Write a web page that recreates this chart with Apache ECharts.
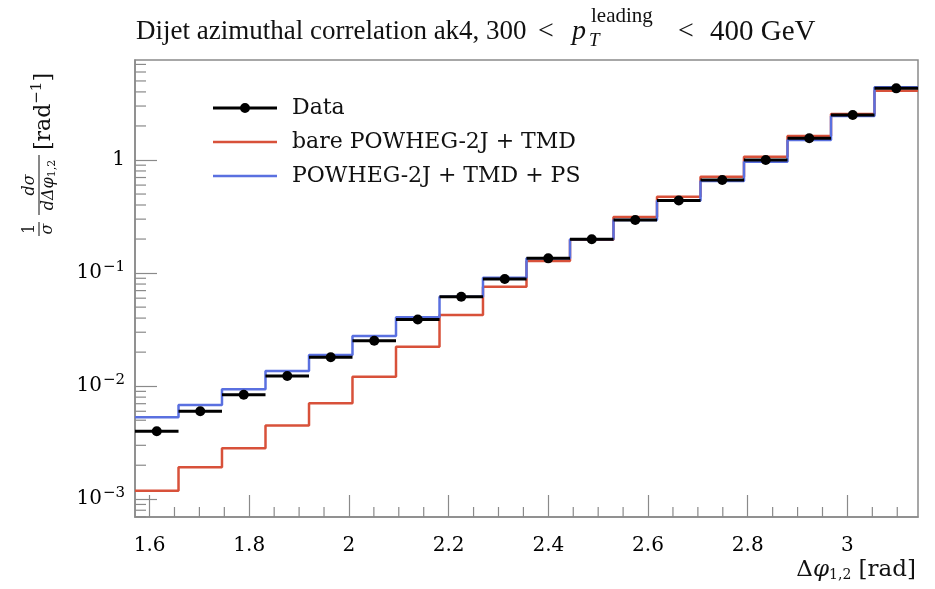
<!DOCTYPE html>
<html>
<head>
<meta charset="utf-8">
<script src="https://cdn.jsdelivr.net/npm/echarts@6/dist/echarts.min.js"></script>
<style>
  html, body { margin: 0; padding: 0; background: #fff; }
  #chart { width: 935px; height: 589px; }
</style>
</head>
<body>
<div id="chart"></div>
<script>
// bin edges in delta-phi (pi/2 .. pi, 18 bins)
const binEdges = [1.5708, 1.6581, 1.7453, 1.8326, 1.9199, 2.0071, 2.0944, 2.1817, 2.2689,
  2.3562, 2.4435, 2.5307, 2.6180, 2.7053, 2.7925, 2.8798, 2.9671, 3.0543, 3.1416];

const dataValues = [0.0040, 0.0060, 0.0084, 0.0123, 0.0180, 0.0252, 0.0389, 0.0618, 0.0887,
  0.135, 0.199, 0.295, 0.438, 0.666, 1.00, 1.555, 2.50, 4.30];
const bareValues = [0.00119, 0.00192, 0.00282, 0.00448, 0.00706, 0.0121, 0.0223, 0.0426, 0.0758,
  0.128, 0.197, 0.313, 0.474, 0.712, 1.07, 1.63, 2.55, 4.10];
const psValues = [0.00531, 0.00682, 0.00939, 0.0136, 0.0189, 0.0278, 0.0407, 0.0618, 0.0911,
  0.135, 0.199, 0.295, 0.437, 0.652, 0.966, 1.50, 2.45, 4.39];

const seriesNames = ['Data', 'bare POWHEG-2J + TMD', 'POWHEG-2J + TMD + PS'];
const yMin = 0.000697, yMax = 7.66;

const RED = '#d8513a';
const BLUE = '#5a70e0';
const AXIS = '#8a8a8a';
const SERIF = 'DejaVu Serif';
const TITLE_FONT = '"Liberation Serif"';

// legend icons (tiny corner specks keep the box 64x10 so the line stays thin)
const ICON_DATA = 'path://M0,3.5 L64,3.5 L64,6.5 L0,6.5 Z M27,5 A5,5 0 1,1 37,5 A5,5 0 1,1 27,5 Z';
const ICON_LINE = 'path://M0,0 L0.05,0 L0.05,0.05 Z M0,10 L0.05,10 L0.05,9.95 Z M0,3.8 L64,3.8 L64,6.2 L0,6.2 Z';

// histogram -> step points
const toSteps = vals => {
  const pts = vals.map((v, i) => [binEdges[i], v]);
  pts.push([binEdges[binEdges.length - 1], vals[vals.length - 1]]);
  return pts;
};

// minor ticks
const xMinor = [];
for (let k = 32; k <= 62; k++) {
  if (k % 4 !== 0) xMinor.push([k * 0.05, yMin]);
}
const yMinor = [];
for (let e = -4; e <= 0; e++) {
  for (let m = 2; m <= 9; m++) {
    const v = m * Math.pow(10, e);
    if (v > yMin && v < yMax) yMinor.push([binEdges[0], v]);
  }
}

const chart = echarts.init(document.getElementById('chart'));

const yLabel = v => {
  const e = Math.round(Math.log10(v));
  if (e === 0) return '1';
  return '10{sup|' + (e < 0 ? '\u2212' : '') + Math.abs(e) + '}';
};

const option = {
  backgroundColor: '#fff',
  animation: false,
  grid: {
    left: 135, right: 17, top: 60, bottom: 72,
    show: true, borderColor: AXIS, borderWidth: 1.5
  },
  legend: {
    data: [
      { name: seriesNames[0], icon: ICON_DATA },
      { name: seriesNames[1], icon: ICON_LINE },
      { name: seriesNames[2], icon: ICON_LINE }
    ],
    orient: 'vertical',
    left: 213, top: 97,
    padding: 0,
    itemWidth: 64, itemHeight: 10, itemGap: 12,
    textStyle: { fontFamily: SERIF, fontSize: 22, color: '#111', padding: [0, 0, 0, 10] }
  },
  xAxis: {
    type: 'value',
    min: binEdges[0], max: binEdges[binEdges.length - 1],
    splitNumber: 8,
    axisLine: { lineStyle: { color: AXIS, width: 1.5 } },
    axisTick: { inside: true, length: 22, lineStyle: { color: AXIS, width: 1.2 } },
    splitLine: { show: false },
    axisLabel: {
      showMinLabel: false, showMaxLabel: false,
      margin: 19, fontFamily: SERIF, fontSize: 20, color: '#000'
    }
  },
  yAxis: {
    type: 'log', logBase: 10,
    min: yMin, max: yMax,
    axisLine: { lineStyle: { color: AXIS, width: 1.5 } },
    axisTick: { inside: true, length: 22, lineStyle: { color: AXIS, width: 1.2 } },
    splitLine: { show: false },
    axisLabel: {
      showMinLabel: false, showMaxLabel: false,
      margin: 10, fontFamily: SERIF, fontSize: 20, color: '#000',
      formatter: yLabel,
      rich: { sup: { fontFamily: SERIF, fontSize: 15, color: '#000', padding: [0, 0, 12, 1] } }
    }
  },
  series: [
    {
      name: seriesNames[1], type: 'line', step: 'end', symbol: 'none',
      lineStyle: { color: RED, width: 2.5 }, itemStyle: { color: RED },
      data: toSteps(bareValues), z: 3
    },
    {
      name: seriesNames[2], type: 'line', step: 'end', symbol: 'none',
      lineStyle: { color: BLUE, width: 2.5 }, itemStyle: { color: BLUE },
      data: toSteps(psValues), z: 4
    },
    {
      name: seriesNames[0], type: 'custom', z: 5,
      itemStyle: { color: '#000' },
      encode: { x: [0, 1], y: 2 },
      data: dataValues.map((v, i) => [binEdges[i], binEdges[i + 1], v]),
      renderItem: (params, api) => {
        const lo = api.value(0), hi = api.value(1), v = api.value(2);
        const a = api.coord([lo, v]), b = api.coord([hi, v]), c = api.coord([(lo + hi) / 2, v]);
        return {
          type: 'group',
          children: [
            { type: 'line', shape: { x1: a[0], y1: a[1], x2: b[0], y2: b[1] }, style: { stroke: '#000', lineWidth: 3 } },
            { type: 'circle', shape: { cx: c[0], cy: c[1], r: 5 }, style: { fill: '#000' } }
          ]
        };
      }
    },
    {
      name: 'xminor', type: 'custom', silent: true, clip: false,
      data: xMinor,
      renderItem: (params, api) => {
        const p = api.coord([api.value(0), api.value(1)]);
        return { type: 'line', shape: { x1: p[0], y1: p[1], x2: p[0], y2: p[1] - 10 }, style: { stroke: AXIS, lineWidth: 1.2 } };
      }
    },
    {
      name: 'yminor', type: 'custom', silent: true, clip: false,
      data: yMinor,
      renderItem: (params, api) => {
        const p = api.coord([api.value(0), api.value(1)]);
        return { type: 'line', shape: { x1: p[0], y1: p[1], x2: p[0] + 11, y2: p[1] }, style: { stroke: AXIS, lineWidth: 1.2 } };
      }
    }
  ],
  graphic: [
    // title
    { type: 'text', left: 136, top: 18, style: { text: 'Dijet azimuthal correlation ak4, 300', font: '27px ' + TITLE_FONT, fill: '#111' } },
    { type: 'text', left: 538, top: 18, style: { text: '<', font: '28px ' + TITLE_FONT, fill: '#111' } },
    { type: 'text', left: 572, top: 18, style: { text: 'p', font: 'italic 28px ' + TITLE_FONT, fill: '#111' } },
    { type: 'text', left: 591, top: 6, style: { text: 'leading', font: '21px ' + TITLE_FONT, fill: '#111' } },
    { type: 'text', left: 589, top: 31, style: { text: 'T', font: 'italic 19px ' + TITLE_FONT, fill: '#111' } },
    { type: 'text', left: 678, top: 18, style: { text: '<', font: '28px ' + TITLE_FONT, fill: '#111' } },
    { type: 'text', left: 710, top: 18, style: { text: '400 GeV', font: '29px ' + TITLE_FONT, fill: '#111' } },
    // x axis name
    {
      type: 'text', right: 19, top: 559,
      style: {
        text: '\u0394{it|\u03c6}{sub|1,2} [rad]',
        font: '23px "DejaVu Serif"', fill: '#111',
        rich: {
          it: { font: 'italic 23px "DejaVu Serif"', fill: '#111' },
          sub: { font: '14px "DejaVu Serif"', fill: '#111', padding: [10, 0, 0, 0] }
        }
      }
    },
    // y axis name (rotated)
    {
      type: 'group', x: 53, y: 240, rotation: Math.PI / 2,
      children: [
        { type: 'text', x: 11, y: -23, style: { text: '1', font: '16px "DejaVu Serif"', fill: '#111', align: 'center', verticalAlign: 'middle' } },
        { type: 'line', shape: { x1: 4, y1: -14, x2: 18, y2: -14 }, style: { stroke: '#111', lineWidth: 1 } },
        { type: 'text', x: 11, y: -5, style: { text: '\u03c3', font: 'italic 16px "DejaVu Serif"', fill: '#111', align: 'center', verticalAlign: 'middle' } },
        { type: 'text', x: 55, y: -23, style: { text: 'd\u03c3', font: 'italic 16px "DejaVu Serif"', fill: '#111', align: 'center', verticalAlign: 'middle' } },
        { type: 'line', shape: { x1: 25, y1: -14, x2: 85, y2: -14 }, style: { stroke: '#111', lineWidth: 1 } },
        {
          type: 'text', x: 55, y: -4,
          style: {
            text: 'd\u0394\u03c6{sub|1,2}', font: 'italic 16px "DejaVu Serif"', fill: '#111', align: 'center', verticalAlign: 'middle',
            rich: { sub: { font: '11px "DejaVu Serif"', fill: '#111', padding: [6, 0, 0, 0] } }
          }
        },
        {
          type: 'text', x: 90, y: -9,
          style: {
            text: '[rad{sup|\u22121}]', font: '22px "DejaVu Serif"', fill: '#111', verticalAlign: 'middle',
            rich: { sup: { font: '15px "DejaVu Serif"', fill: '#111', padding: [0, 0, 13, 0] } }
          }
        }
      ]
    }
  ]
};

chart.setOption(option);
</script>
</body>
</html>
